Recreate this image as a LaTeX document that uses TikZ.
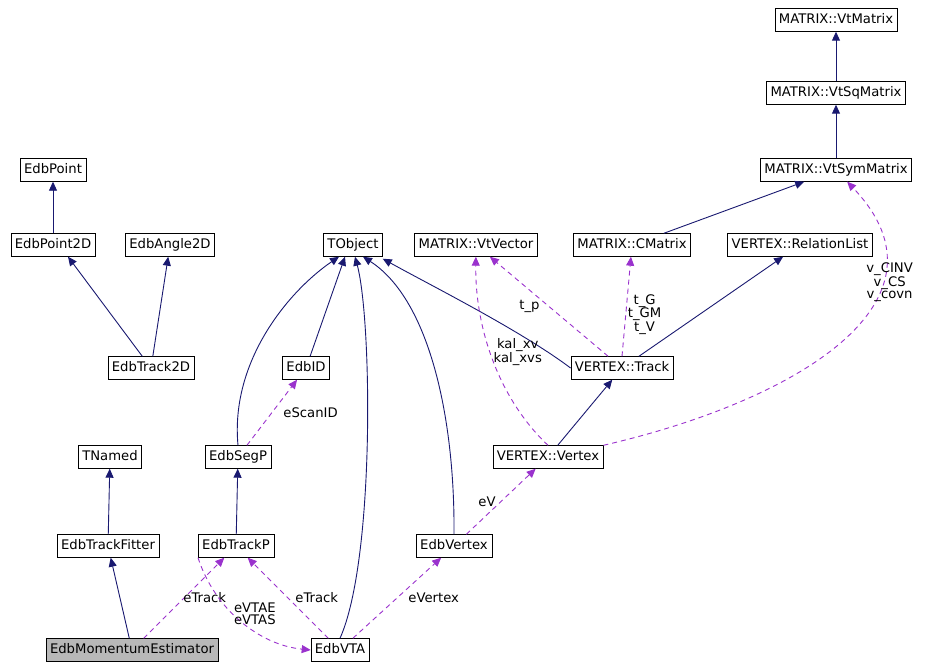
\documentclass[tikz,border=0pt]{standalone}
\usepackage{fontspec}
\setmainfont{DejaVu Sans}
\usetikzlibrary{arrows.meta, positioning}
\definecolor{edgenavy}{HTML}{191970}
\definecolor{usepurple}{HTML}{9A32CD}

\begin{document}
\begin{tikzpicture}[x=1pt, y=-1pt, font=\fontsize{13.2}{14}\selectfont]
\tikzstyle{cls} = [rectangle, draw=black, fill=white, minimum height=23pt, inner xsep=4pt, text height=9pt, text depth=2.5pt]
\tikzstyle{inh} = [draw=edgenavy, line width=0.9pt, -{Triangle[length=9pt, width=8pt]}]
\tikzstyle{use} = [draw=usepurple, line width=0.9pt, dash pattern=on 5pt off 4pt, -{Triangle[length=9pt, width=8pt]}]
\tikzstyle{lbl} = [align=center, inner sep=1pt, font=\fontsize{13.2}{12}\selectfont]

\useasboundingbox (0,0) rectangle (930,669);

% Classes
\node (vtm) [cls] at (836,20) {MATRIX::VtMatrix};
\node (vtsq) [cls] at (836,93) {MATRIX::VtSqMatrix};
\node (vtsym) [cls] at (836,170) {MATRIX::VtSymMatrix};
\node (pt) [cls] at (53,170) {EdbPoint};
\node (pt2d) [cls] at (53,245) {EdbPoint2D};
\node (ang) [cls] at (170,245) {EdbAngle2D};
\node (tobj) [cls] at (353,245) {TObject};
\node (vtvec) [cls] at (476,245) {MATRIX::VtVector};
\node (cmat) [cls] at (632,245) {MATRIX::CMatrix};
\node (rel) [cls] at (800,245) {VERTEX::RelationList};
\node (tr2d) [cls] at (151,368) {EdbTrack2D};
\node (eid) [cls] at (306,368) {EdbID};
\node (vtrk) [cls] at (622,368) {VERTEX::Track};
\node (tnam) [cls] at (110,457) {TNamed};
\node (seg) [cls] at (238,457) {EdbSegP};
\node (vvtx) [cls] at (548,457) {VERTEX::Vertex};
\node (fit) [cls] at (108,546) {EdbTrackFitter};
\node (trkp) [cls] at (236,546) {EdbTrackP};
\node (evtx) [cls] at (454,546) {EdbVertex};
\node (mom) [cls, fill=black!28] at (132,650) {EdbMomentumEstimator};
\node (vta) [cls] at (340,650) {EdbVTA};

% Inheritance
\draw[inh] (vtsq) -- (vtm);
\draw[inh] (vtsym) -- (vtsq);
\draw[inh] (pt2d) -- (pt);
\draw[inh] (tr2d) -- ([xshift=15pt]pt2d.south);
\draw[inh] (tr2d) -- (ang);
\draw[inh] (eid) -- ([xshift=-8pt]tobj.south);
\draw[inh] (seg.north) .. controls (230,360) and (290,290) .. ([xshift=-14pt]tobj.south);
\draw[inh] (evtx.north) .. controls (455,420) and (430,300) .. ([xshift=10pt]tobj.south);
\draw[inh] (vta.north) .. controls (375,560) and (372,320) .. ([xshift=2pt]tobj.south);
\draw[inh] (vtrk.west) .. controls (520,330) and (430,285) .. ([yshift=-2pt]tobj.south east);
\draw[inh] (vtrk) -- (rel);
\draw[inh] (cmat) -- (vtsym);
\draw[inh] (vvtx) -- (vtrk);
\draw[inh] (fit) -- (tnam);
\draw[inh] (trkp) -- (seg);
\draw[inh] (mom) -- (fit);

% Usage
\draw[use] (seg) -- node[lbl, right, xshift=10pt] {eScanID} (eid);
\draw[use] (vtrk) -- node[lbl, left, xshift=-8pt] {t\_p} (vtvec);
\draw[use] (vtrk.north) -- node[lbl, right, yshift=-8pt] {t\_G\\t\_GM\\t\_V} (cmat);
\draw[use] (vvtx.north) .. controls (500,400) and (475,330) .. node[lbl, pos=0.55, right, xshift=2pt] {kal\_xv\\kal\_xvs} (vtvec);
\draw[use] (vvtx.north east) .. controls (800,400) and (960,300) .. node[lbl, pos=0.72, right, xshift=-18pt, yshift=-6pt] {v\_CINV\\v\_CS\\v\_covn} (vtsym);
\draw[use] (evtx) -- node[lbl, left, xshift=-4pt] {eV} (vvtx);
\draw[use] (mom) -- node[lbl, right, xshift=-2pt] {eTrack} (trkp);
\draw[use] (vta) -- node[lbl, right, xshift=6pt] {eTrack} (trkp);
\draw[use] (trkp.south west) .. controls (215,610) and (260,645) .. node[lbl, pos=0.42, right] {eVTAE\\eVTAS} (vta.west);
\draw[use] (vta) -- node[lbl, right, xshift=10pt] {eVertex} (evtx);
\end{tikzpicture}
\end{document}
